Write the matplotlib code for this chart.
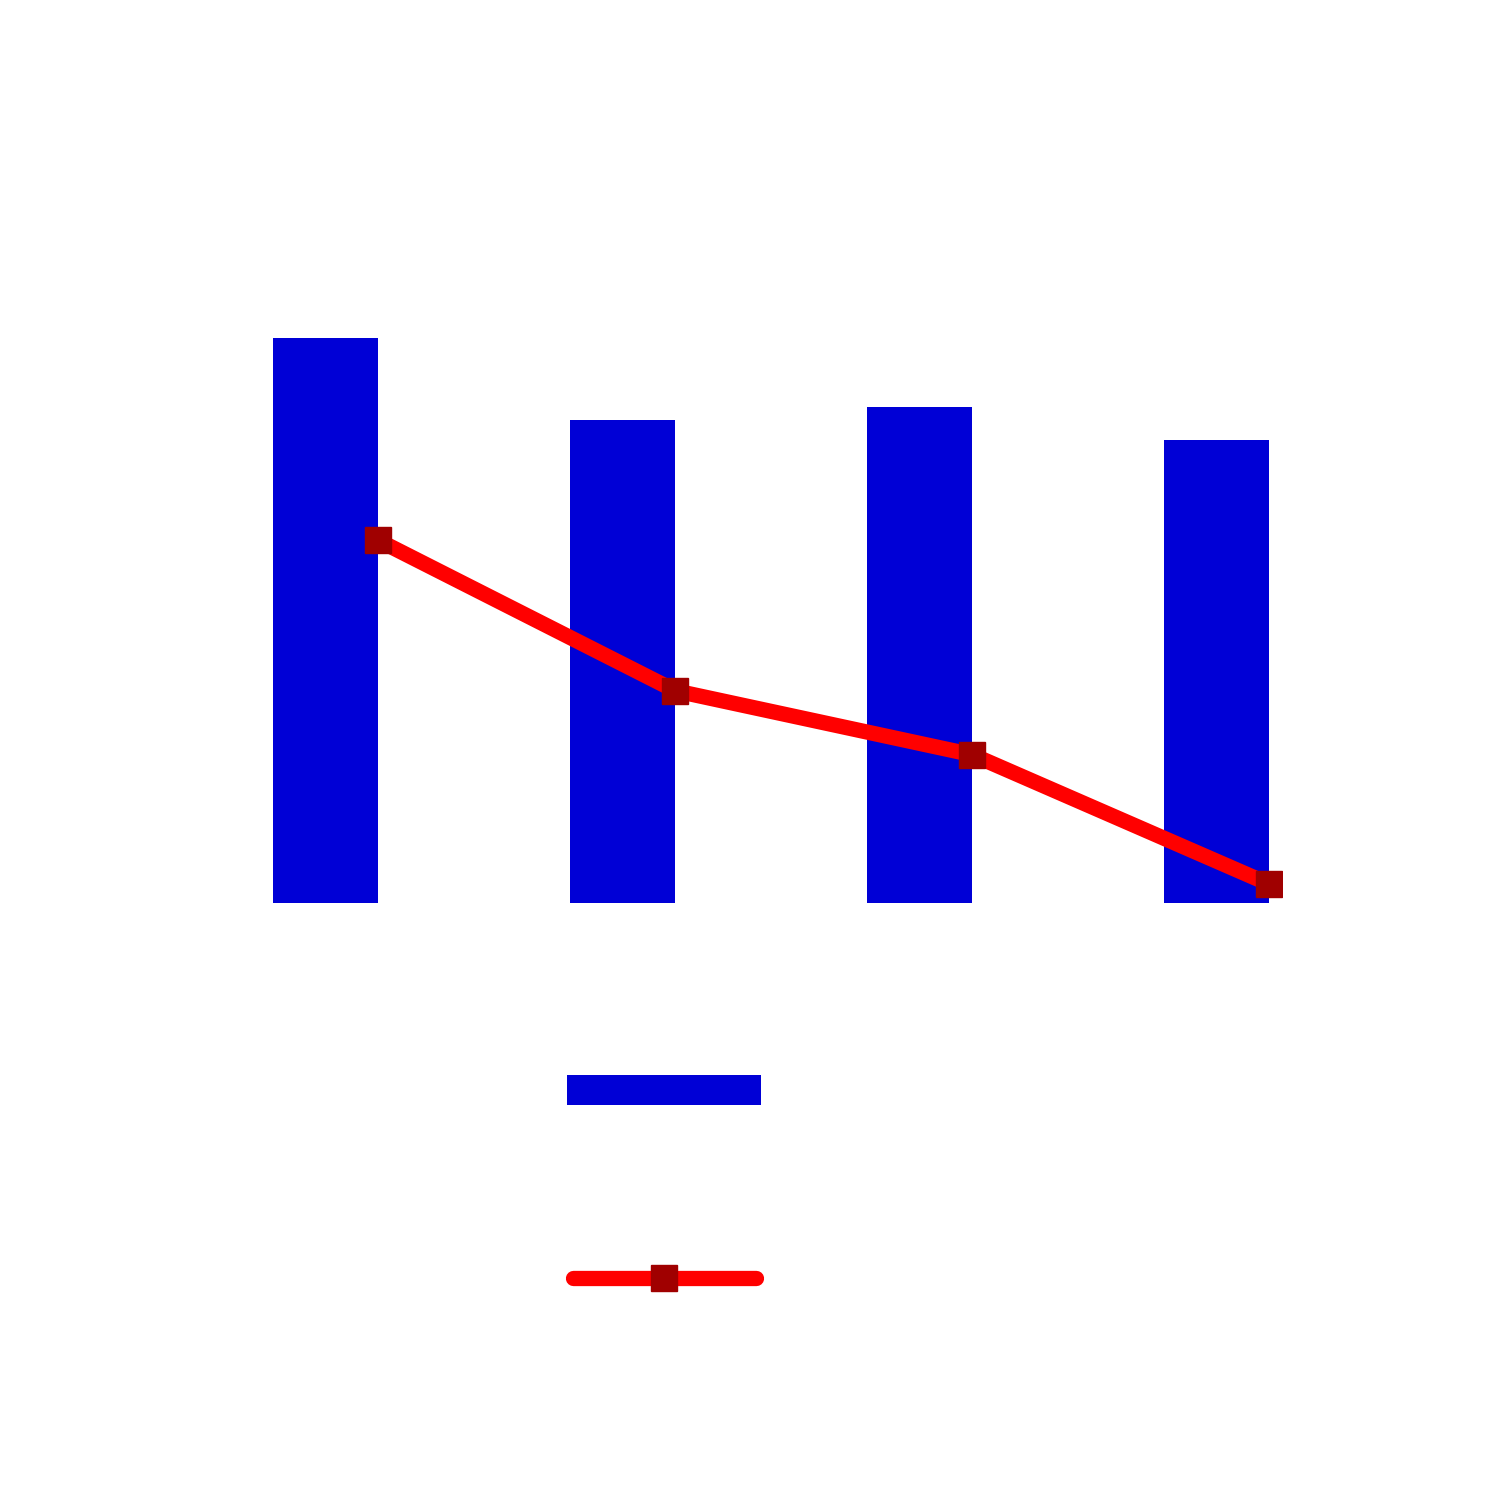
import matplotlib
matplotlib.use("Agg")
import matplotlib.pyplot as plt
from matplotlib.legend_handler import HandlerLine2D
import numpy as np

# values (axis hidden, 0-100 scale)
categories = ["A", "B", "C", "D"]
bar_values = [80.4, 68.7, 70.6, 65.9]
line_values = [51.6, 30.2, 21.1, 2.7]

x = np.arange(len(categories))


class InsetLine(HandlerLine2D):
    # keep the round caps inside the handle box
    def get_xdata(self, legend, xdescent, ydescent, width, height, fontsize):
        pad = 4.0
        xdata = np.array([-xdescent + pad, -xdescent + width - pad])
        return xdata, [-xdescent + 0.5 * width]


fig = plt.figure(figsize=(15, 15), dpi=100)
# axes placed so the baseline lands at y=903px and the bars start at x=273px
ax = fig.add_axes([273 / 1500, (1500 - 903) / 1500, (1282 - 273) / 1500, 703 / 1500])

bars = ax.bar(x, bar_values, width=-0.354, align="edge", color="#0000d6", label=" ")
line, = ax.plot(x, line_values, color="#ff0000", lw=11, marker="s", markersize=18.5,
                markerfacecolor="#a00000", markeredgecolor="#a00000",
                solid_capstyle="round", label=" ")

ax.set_xlim(-0.354, 3 + 13 / 297)
ax.set_ylim(0, 100)
ax.axis("off")

fig.legend([bars, line], [" ", " "], loc="upper left",
           bbox_to_anchor=(567 / 1500, 1 - 1075 / 1500), frameon=False,
           fontsize=20, handlelength=7.0, handleheight=1.31, labelspacing=5.78,
           borderpad=0, borderaxespad=0,
           handler_map={line: InsetLine()})

fig.savefig("out.png", dpi=100, facecolor="white")
